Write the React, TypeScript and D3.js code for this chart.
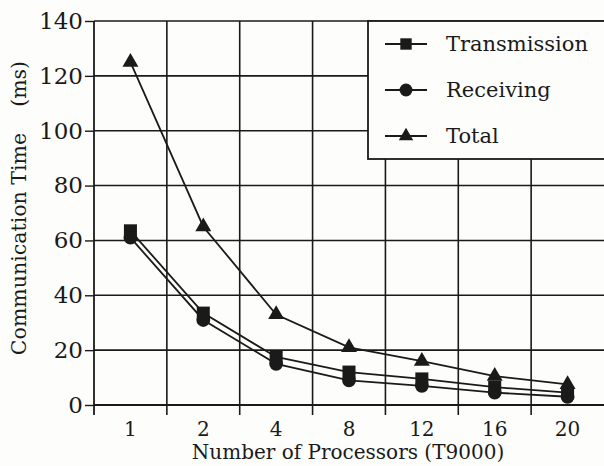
import * as d3 from 'd3'
import { useEffect, useRef } from 'react'

const processors = ['1', '2', '4', '8', '12', '16', '20']
const transmission = [63.5, 33.5, 17.5, 12, 9.5, 6.5, 4.5]
const receiving = [61, 31, 15, 9, 7, 4.5, 3]
const total = [125, 65, 33, 21, 16, 10.5, 7.5]
const yTicks = [0, 20, 40, 60, 80, 100, 120, 140]
const seriesNames = ['Transmission', 'Receiving', 'Total']

export default function App() {
  const ref = useRef<SVGSVGElement | null>(null)

  useEffect(() => {
    const width = 604
    const height = 466
    const marginTop = 21
    const marginRight = 0
    const marginBottom = 61
    const marginLeft = 94
    const ink = '#1a1a1a'
    const font = '"DejaVu Serif", serif'

    const svg = d3.select(ref.current!)
    svg.selectAll('*').remove()
    svg.append('rect').attr('width', width).attr('height', height).attr('fill', '#fdfdfb')

    const x = d3
      .scaleBand()
      .domain(processors)
      .range([marginLeft, width - marginRight])
      .padding(0)

    const y = d3
      .scaleLinear()
      .domain([0, 140])
      .range([height - marginBottom, marginTop])

    // grid
    const grid = svg.append('g').attr('stroke', ink).attr('stroke-width', 1.6)
    grid
      .selectAll('line.h')
      .data(yTicks.slice(1))
      .join('line')
      .attr('x1', marginLeft)
      .attr('x2', width)
      .attr('y1', (d) => y(d))
      .attr('y2', (d) => y(d))
    grid
      .selectAll('line.v')
      .data(processors.slice(1))
      .join('line')
      .attr('x1', (d) => x(d)!)
      .attr('x2', (d) => x(d)!)
      .attr('y1', marginTop)
      .attr('y2', height - marginBottom + 10)

    // y axis
    const yAxis = svg.append('g').attr('transform', `translate(${marginLeft},0)`)
    yAxis.call(
      d3.axisLeft(y).tickValues(d3.range(0, 141, 5)).tickSize(3).tickFormat(() => '')
    )
    yAxis.call(d3.axisLeft(y).tickValues(yTicks).tickSize(9).tickPadding(2))
    yAxis.selectAll('.domain').remove()
    yAxis.selectAll('line').attr('stroke', ink).attr('stroke-width', 1.4)
    yAxis
      .selectAll('text')
      .attr('font-family', font)
      .attr('font-size', 23)
      .attr('fill', ink)
    svg
      .append('line')
      .attr('x1', marginLeft)
      .attr('x2', marginLeft)
      .attr('y1', marginTop)
      .attr('y2', height - marginBottom + 10)
      .attr('stroke', ink)
      .attr('stroke-width', 1.8)

    // x axis
    svg
      .append('line')
      .attr('x1', marginLeft)
      .attr('x2', width)
      .attr('y1', y(0))
      .attr('y2', y(0))
      .attr('stroke', ink)
      .attr('stroke-width', 1.8)
    svg
      .append('g')
      .selectAll('text')
      .data(processors)
      .join('text')
      .attr('x', (d) => x(d)! + x.bandwidth() / 2)
      .attr('y', 436)
      .attr('text-anchor', 'middle')
      .attr('font-family', font)
      .attr('font-size', 20)
      .attr('fill', ink)
      .text((d) => d)

    // axis titles
    svg
      .append('text')
      .attr('x', 348)
      .attr('y', 459)
      .attr('text-anchor', 'middle')
      .attr('font-family', font)
      .attr('font-size', 20)
      .attr('fill', ink)
      .text('Number of Processors (T9000)')
    svg
      .append('text')
      .attr('transform', 'translate(26,208) rotate(-90)')
      .attr('text-anchor', 'middle')
      .attr('font-family', font)
      .attr('font-size', 20.5)
      .attr('fill', ink)
      .style('white-space', 'pre')
      .text('Communication Time    (ms)')

    const cx = (i: number) => x(processors[i])! + x.bandwidth() / 2
    const line = d3
      .line<number>()
      .x((_, i) => cx(i))
      .y((d) => y(d))

    const drawSeries = (values: number[], shape: d3.SymbolType, size: number) => {
      svg
        .append('path')
        .datum(values)
        .attr('d', line)
        .attr('fill', 'none')
        .attr('stroke', ink)
        .attr('stroke-width', 1.8)
      svg
        .append('g')
        .selectAll('path')
        .data(values)
        .join('path')
        .attr('transform', (d, i) => `translate(${cx(i)},${y(d)})`)
        .attr('d', d3.symbol(shape, size)())
        .attr('fill', ink)
    }
    drawSeries(transmission, d3.symbolSquare, 170)
    drawSeries(receiving, d3.symbolCircle, 150)
    drawSeries(total, d3.symbolTriangle, 110)

    // legend
    const legend = svg.append('g')
    legend
      .append('rect')
      .attr('x', 368)
      .attr('y', marginTop)
      .attr('width', width - 368 + 2)
      .attr('height', 138)
      .attr('fill', '#fdfdfb')
      .attr('stroke', ink)
      .attr('stroke-width', 1.8)
    const shapes = [d3.symbolSquare, d3.symbolCircle, d3.symbolTriangle]
    const sizes = [130, 130, 90]
    seriesNames.forEach((name, i) => {
      const ly = 44 + i * 46
      const row = legend.append('g').attr('transform', `translate(0,${ly})`)
      row
        .append('line')
        .attr('x1', 385)
        .attr('x2', 427)
        .attr('stroke', ink)
        .attr('stroke-width', 1.8)
      row
        .append('path')
        .attr('transform', 'translate(406,0)')
        .attr('d', d3.symbol(shapes[i], sizes[i])())
        .attr('fill', ink)
      row
        .append('text')
        .attr('x', 446)
        .attr('y', 7)
        .attr('font-family', font)
        .attr('font-size', 21)
        .attr('fill', ink)
        .text(name)
    })
  }, [])

  return (
    <svg
      ref={ref}
      width={604}
      height={466}
      style={{ position: 'absolute', left: 0, top: 0, display: 'block' }}
    />
  )
}
